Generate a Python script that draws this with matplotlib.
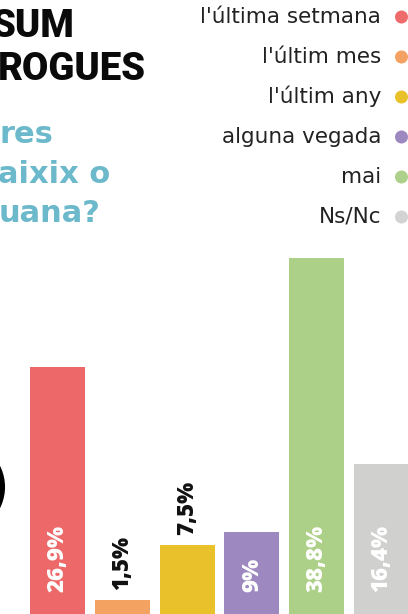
import matplotlib
matplotlib.use("Agg")
import matplotlib.pyplot as plt
from matplotlib.patches import Circle

# Data
categories = ["l'última setmana", "l'últim mes", "l'últim any", "alguna vegada", "mai", "Ns/Nc"]
values = [26.9, 1.5, 7.5, 9.0, 38.8, 16.4]
value_labels = ["26,9%", "1,5%", "7,5%", "9%", "38,8%", "16,4%"]
colors = ["#ed6969", "#f4a262", "#e9c12a", "#9d89bf", "#acd088", "#d0d0cf"]
legend_dot_colors = ["#ee6b6b", "#f4a263", "#e9c22a", "#9d88c0", "#add18a", "#d3d3d3"]

W, H = 408, 614
fig = plt.figure(figsize=(W / 100, H / 100), dpi=100)
fig.patch.set_facecolor("white")

# Bars
ax = fig.add_axes([0, 0, 1, 1])
x = list(range(len(values)))
ax.bar(x, values, width=0.849, color=colors, zorder=2)
ax.set_xlim(-0.887, 5.409)
ax.set_ylim(0, 67.0)
ax.axis("off")

for xi, v, lab in zip(x, values, value_labels):
    if v > 8:
        ax.text(xi, 2.4, lab, rotation=90, ha="center", va="bottom",
                color="white", fontsize=16, fontweight="heavy",
                family=["Open Sans", "DejaVu Sans"], zorder=3)
    else:
        ax.text(xi, v + 1.15, lab, rotation=90, ha="center", va="bottom",
                color="#111111", fontsize=16, fontweight="heavy",
                family=["Open Sans", "DejaVu Sans"], zorder=3)

# Overlay in pixel coordinates
ov = fig.add_axes([0, 0, 1, 1], facecolor="none")
ov.set_xlim(0, W)
ov.set_ylim(H, 0)
ov.axis("off")

# Title fragments
ov.text(-8, 37, "SUM", fontsize=27.5, fontweight="black", color="#0a0a0a",
        family=["Roboto", "DejaVu Sans"], ha="left", va="baseline")
ov.text(-2, 80, "ROGUES", fontsize=27.5, fontweight="black", color="#0a0a0a",
        family=["Roboto", "DejaVu Sans"], ha="left", va="baseline")

blue = "#6cb9cb"
for txt, yb, xs in [("res", 143, -1), ("aixix o", 183, -2), ("uana?", 222, -1)]:
    ov.text(xs, yb, txt, fontsize=22, fontweight="bold", color=blue,
            family=["DejaVu Sans"], ha="left", va="baseline")

# Legend
for i, (cat, c) in enumerate(zip(categories, legend_dot_colors)):
    yc = 17 + 40 * i
    ov.text(381, yc + 6, cat, fontsize=15.5, color="#222222",
            family=["DejaVu Sans"], ha="right", va="baseline")
    ov.add_patch(Circle((401.5, yc), 6.5, facecolor=c, edgecolor="none"))

# Black ring fragment at left edge
ov.add_patch(Circle((-42, 487), 43, facecolor="none", edgecolor="#000000", linewidth=5.8))

fig.savefig("out.png", dpi=100, facecolor="white")
